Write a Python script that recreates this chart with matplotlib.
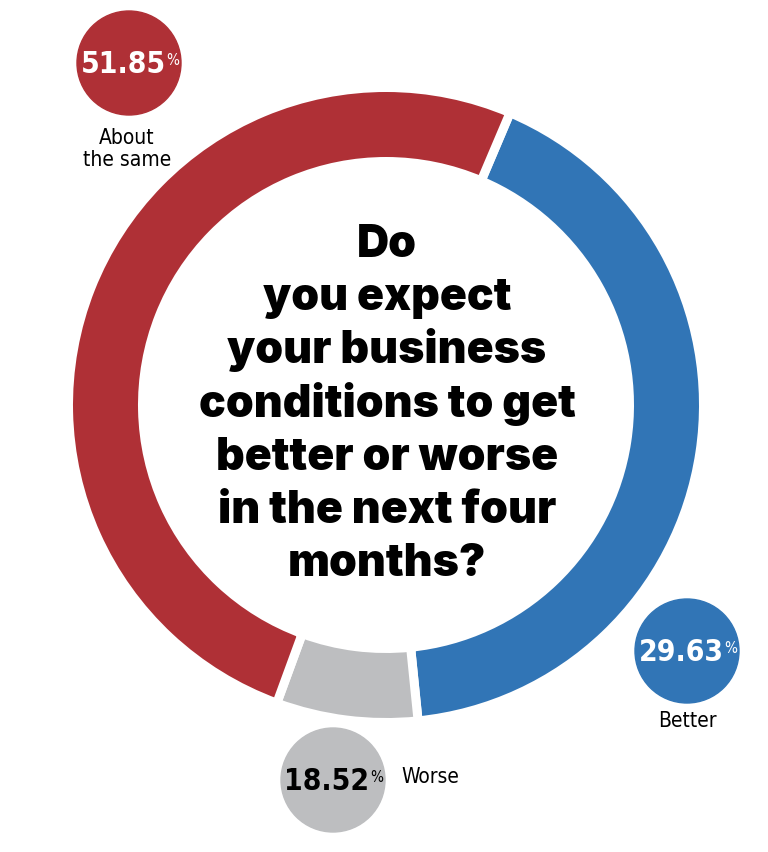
import matplotlib
matplotlib.use("Agg")
import matplotlib.pyplot as plt
from matplotlib.patches import Circle

# answers, in ring order (clockwise from the top gap)
labels = ["Better", "Worse", "About\nthe same"]
shares = [29.63, 18.52, 51.85]          # printed values
ring_share = [42.0, 7.2, 50.8]          # arc sizes as drawn in the source ring
colors = ["#3175B6", "#BDBEC0", "#AF3036"]
value_colors = ["white", "black", "white"]

question = ["Do", "you expect", "your business", "conditions to get",
            "better or worse", "in the next four", "months?"]

# layout, in pixels of the 768x852 image (y grows downwards)
W, H = 768, 852
cx, cy = 386, 405
r_out, ring_w = 313, 65
gap = 9
bubbles = [(687, 651), (333, 780), (129, 63)]
label_pos = [(687, 721, "center"), (401, 777, "left"), (127, 149, "center")]
bubble_r = 52

narrow = dict(family="DejaVu Sans", fontstretch="condensed")

fig = plt.figure(figsize=(W / 100, H / 100), dpi=100)
ax = fig.add_axes([0, 0, 1, 1])

# y axis is inverted, so counterclockwise in data runs clockwise on screen
gap_pt = gap * 72 / 100
ax.pie(ring_share, colors=colors, startangle=-67, counterclock=True,
       radius=r_out + gap / 2, center=(cx, cy),
       wedgeprops=dict(width=ring_w + gap, edgecolor="white", linewidth=gap_pt))

ax.set_xlim(0, W)
ax.set_ylim(H, 0)
ax.set_aspect("equal")
ax.axis("off")

for (bx, by), val, col, tcol in zip(bubbles, shares, colors, value_colors):
    ax.add_patch(Circle((bx, by), bubble_r, color=col, zorder=3))
    num = ax.text(bx - 6, by + 10, f"{val:.2f}", ha="center", va="baseline",
                  fontsize=21.5, fontweight="bold", color=tcol, zorder=4, **narrow)
    ax.annotate("%", xy=(1, 1), xycoords=num, xytext=(0.5, -2),
                textcoords="offset points", ha="left", va="top",
                fontsize=11, color=tcol, zorder=4, **narrow)

for (lx, ly, ha), lab in zip(label_pos, labels):
    ax.text(lx, ly, lab, ha=ha, va="center", fontsize=15,
            linespacing=1.15, color="black", **narrow)

y0, step = 257, 53.2
for i, line in enumerate(question):
    ax.text(cx + 1, y0 + i * step, line, ha="center", va="baseline",
            fontsize=32, fontweight="black", family=["Inter", "DejaVu Sans"],
            color="black")

fig.savefig("out.png", dpi=100, facecolor="white")
